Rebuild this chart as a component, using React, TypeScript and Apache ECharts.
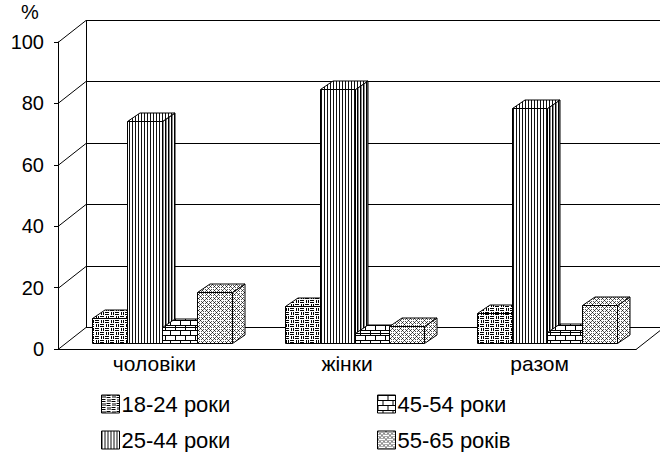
import React, { useEffect, useRef } from 'react';
import * as echarts from 'echarts';

// Share of respondents by age group, %
const CATEGORIES = ['чоловіки', 'жінки', 'разом'];
const AGE_GROUPS = ['18-24 роки', '25-44 роки', '45-54 роки', '55-65 років'];
const AGE_18_24 = [8, 12, 9.6];
const AGE_25_44 = [72.2, 82.6, 76.4];
const AGE_45_54 = [5, 3, 3.6];
const AGE_55_65 = [16.5, 5.6, 12.3];
const SERIES_VALUES = [AGE_18_24, AGE_25_44, AGE_45_54, AGE_55_65];
const Y_TICKS = [0, 20, 40, 60, 80, 100];

const FONT = '"Liberation Sans", Arial, sans-serif';

// pseudo-3D geometry: depth of the box walls and of the bars
const WALL_DX = 28;
const WALL_DY = -22;
const BAR_OFF_X = 7.5;
const BAR_OFF_Y = -6.3;
const BAR_DX = 12.5;
const BAR_DY = -8.5;
const BAR_FRAC = 0.1816;

type Pix = (x: number, y: number) => string | null;

function makePattern(w: number, h: number, pix: Pix, bg = '#ffffff') {
  const c = document.createElement('canvas');
  c.width = w;
  c.height = h;
  const ctx = c.getContext('2d') as CanvasRenderingContext2D;
  ctx.fillStyle = bg;
  ctx.fillRect(0, 0, w, h);
  for (let y = 0; y < h; y++) {
    for (let x = 0; x < w; x++) {
      const col = pix(x, y);
      if (col) {
        ctx.fillStyle = col;
        ctx.fillRect(x, y, 1, 1);
      }
    }
  }
  return { image: c.toDataURL(), repeat: 'repeat', imageWidth: w, imageHeight: h };
}

function buildPatterns() {
  // weave of short vertical and horizontal strokes
  const weave = makePattern(10, 8, (x, y) => {
    const qx = Math.floor(x / 5);
    const qy = Math.floor(y / 4);
    const lx = x % 5;
    const ly = y % 4;
    if ((qx + qy) % 2 === 0) return (lx === 1 || lx === 3) && ly < 3 ? '#000' : null;
    return (ly === 0 || ly === 2) && lx < 4 ? '#000' : null;
  });
  // dense vertical stripes
  const stripes = makePattern(3, 1, (x) => (x === 0 ? '#111' : null));
  const stripesSide = makePattern(3, 1, (x) => (x === 0 ? '#000' : x === 1 ? '#8a8a8a' : null));
  // brick wall
  const bricks = makePattern(10, 10, (x, y) => {
    if (y % 5 === 0) return '#000';
    if (y < 5 && x === 0) return '#000';
    if (y >= 5 && x === 5) return '#000';
    return null;
  });
  // fine dotted diamond lattice
  const lattice = makePattern(8, 8, (x, y) => {
    const d1 = (x + y) % 8;
    const d2 = (x - y + 8) % 8;
    if (d1 === 0 || d2 === 0) return (x % 2 === 0) ? '#222' : '#666';
    if (d1 === 4 || d2 === 4) return (x % 2 === 1) ? '#555' : null;
    return null;
  });
  return {
    front: [weave, stripes, bricks, lattice],
    side: [weave, stripesSide, bricks, lattice],
  };
}

const crisp = (v: number) => Math.round(v) + 0.5;

export default function App() {
  const ref = useRef<HTMLDivElement>(null);

  useEffect(() => {
    if (!ref.current) return;
    const chart = echarts.init(ref.current, null, { renderer: 'svg' });
    const patterns = buildPatterns();
    const lineStyle = { stroke: '#000', lineWidth: 1 };

    const frameSeries = {
      type: 'custom',
      coordinateSystem: 'cartesian2d',
      silent: true,
      clip: false,
      z: 1,
      data: [[0, 0]],
      renderItem: (params: any, api: any) => {
        const cs = params.coordSys;
        const xL = cs.x;
        const xR = cs.x + cs.width;
        const children: any[] = [];
        const line = (x1: number, y1: number, x2: number, y2: number) => ({
          type: 'line',
          shape: { x1, y1, x2, y2 },
          style: lineStyle,
        });
        Y_TICKS.forEach((t) => {
          const y = crisp(api.coord([0, t])[1]);
          children.push(line(xL, y, xL + WALL_DX, y + WALL_DY));
          children.push(line(xL + WALL_DX, y + WALL_DY, xR + WALL_DX + 40, y + WALL_DY));
        });
        const yTop = crisp(api.coord([0, Y_TICKS[Y_TICKS.length - 1]])[1]);
        const yBot = crisp(api.coord([0, Y_TICKS[0]])[1]);
        children.push(line(crisp(xL + WALL_DX), yTop + WALL_DY, crisp(xL + WALL_DX), yBot + WALL_DY));
        children.push(line(xR, yBot, xR + WALL_DX, yBot + WALL_DY));
        return { type: 'group', children };
      },
    };

    const barSeries = AGE_GROUPS.map((name, s) => ({
      type: 'custom',
      name,
      coordinateSystem: 'cartesian2d',
      clip: false,
      z: 2,
      itemStyle: { color: patterns.front[s], borderColor: '#000', borderWidth: 1 },
      encode: { x: 0, y: 1 },
      data: CATEGORIES.map((_, i) => [i, SERIES_VALUES[s][i]]),
      renderItem: (params: any, api: any) => {
        const c = api.value(0);
        const v = api.value(1);
        const base = api.coord([c, 0]);
        const topPt = api.coord([c, v]);
        const band = api.size([1, 0])[0];
        const w = band * BAR_FRAC;
        const xl = crisp(base[0] - 2 * w + s * w + BAR_OFF_X);
        const xr = crisp(base[0] - 2 * w + (s + 1) * w + BAR_OFF_X);
        const yb = crisp(base[1] + BAR_OFF_Y);
        const yt = crisp(topPt[1] + BAR_OFF_Y);
        const face = (points: number[][], fill: any) => ({
          type: 'polygon',
          shape: { points },
          style: { fill, stroke: '#000', lineWidth: 1 },
        });
        return {
          type: 'group',
          children: [
            face(
              [
                [xr, yt],
                [xr + BAR_DX, yt + BAR_DY],
                [xr + BAR_DX, yb + BAR_DY],
                [xr, yb],
              ],
              patterns.side[s]
            ),
            face(
              [
                [xl, yt],
                [xl + BAR_DX, yt + BAR_DY],
                [xr + BAR_DX, yt + BAR_DY],
                [xr, yt],
              ],
              patterns.front[s]
            ),
            face(
              [
                [xl, yt],
                [xr, yt],
                [xr, yb],
                [xl, yb],
              ],
              patterns.front[s]
            ),
          ],
        };
      },
    }));

    const legendBase = {
      orient: 'vertical',
      top: 393,
      height: 120,
      width: 250,
      padding: 0,
      icon: 'rect',
      itemWidth: 18,
      itemHeight: 18,
      itemGap: 14,
      selectedMode: false,
      textStyle: { color: '#000', fontSize: 22, fontFamily: FONT, lineHeight: 20, padding: [0, 0, 0, -3] },
    };
    const legendItem = (s: number) => ({
      name: AGE_GROUPS[s],
      itemStyle: { color: patterns.front[s], borderColor: '#000', borderWidth: 1 },
    });

    chart.setOption({
      animation: false,
      textStyle: { fontFamily: FONT },
      grid: { left: 58, right: 24, top: 42, bottom: 103 },
      xAxis: {
        type: 'category',
        data: CATEGORIES,
        axisLine: { lineStyle: { color: '#000', width: 1 } },
        axisTick: { length: 5, lineStyle: { color: '#000' } },
        axisLabel: { color: '#000', fontSize: 21, fontFamily: FONT, margin: 4 },
        splitLine: { show: false },
      },
      yAxis: {
        type: 'value',
        min: 0,
        max: 100,
        interval: 20,
        axisLine: { show: true, lineStyle: { color: '#000', width: 1 } },
        axisTick: { show: true, length: 4, lineStyle: { color: '#000' } },
        axisLabel: { color: '#000', fontSize: 20, fontFamily: FONT, margin: 14 },
        splitLine: { show: false },
      },
      legend: [
        { ...legendBase, id: 'young', left: 101, data: [legendItem(0), legendItem(1)] },
        { ...legendBase, id: 'older', left: 377, data: [legendItem(2), legendItem(3)] },
      ],
      graphic: [
        {
          type: 'text',
          left: 21,
          top: 2,
          style: { text: '%', fontSize: 20, fontFamily: FONT, fill: '#000' },
        },
      ],
      series: [frameSeries, ...barSeries],
    });

    return () => chart.dispose();
  }, []);

  return (
    <div
      ref={ref}
      style={{ position: 'absolute', left: 0, top: 0, width: 660, height: 452, background: '#fff' }}
    />
  );
}
